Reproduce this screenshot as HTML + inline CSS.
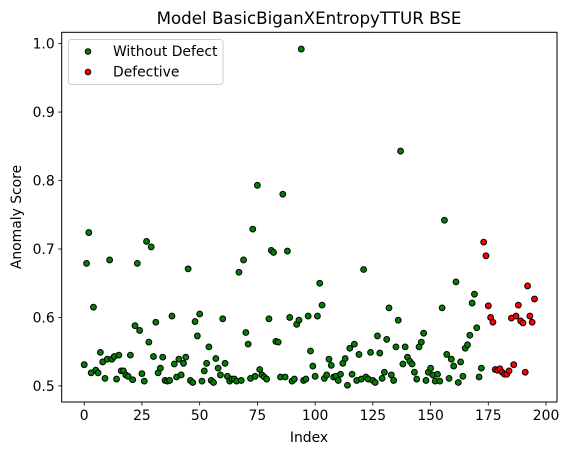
<!DOCTYPE html>
<html><head><meta charset="utf-8">
<style>
body{margin:0;background:#fff;}
svg{display:block;font-family:"DejaVu Sans","Liberation Sans",sans-serif;}
</style></head>
<body>
<svg id="chart" width="571" height="455" viewBox="0 0 571 455" xmlns="http://www.w3.org/2000/svg">
<rect x="0" y="0" width="571" height="455" fill="#fff"/>
<text x="309" y="24" text-anchor="middle" font-size="16.7" fill="#000">Model BasicBiganXEntropyTTUR BSE</text>
<g id="ticks"></g>
<g id="points"></g>
<rect x="61.7" y="32.3" width="495.3" height="369.7" fill="none" stroke="#000" stroke-width="1"/>
<g>
<rect x="68.5" y="39.5" width="154.5" height="45" rx="3" fill="#fff" fill-opacity="0.8" stroke="#ccc" stroke-width="1"/>
<circle cx="88" cy="51.5" r="2.8" fill="green" stroke="#000" stroke-width="1"/>
<text x="113" y="56" font-size="13.9">Without Defect</text>
<circle cx="88" cy="72" r="2.8" fill="red" stroke="#000" stroke-width="1"/>
<text x="113" y="76.5" font-size="13.9">Defective</text>
</g>
<text x="309" y="442" text-anchor="middle" font-size="13.9">Index</text>
<text x="21" y="217" text-anchor="middle" font-size="13.9" transform="rotate(-90 21 217)">Anomaly Score</text>
</svg>
<script>
const greenScores=[0.531,0.679,0.724,0.519,0.615,0.523,0.519,0.549,0.535,0.511,0.539,0.684,0.539,0.543,0.510,0.545,0.522,0.522,0.516,0.514,0.545,0.509,0.588,0.679,0.581,0.518,0.507,0.711,0.564,0.703,0.543,0.593,0.519,0.526,0.542,0.508,0.507,
0.508,0.602,0.532,0.513,0.539,0.516,0.533,0.542,0.671,0.508,0.505,0.594,0.573,0.605,0.507,0.522,0.533,0.557,0.508,0.505,0.540,0.526,0.516,0.598,0.533,0.514,0.507,0.510,0.510,0.507,0.666,0.508,0.684,0.578,0.561,0.511,0.729,0.514,0.793,0.524,0.516,
0.513,0.510,0.598,0.698,0.695,0.565,0.564,0.513,0.780,0.513,0.697,0.600,0.507,0.510,0.590,0.596,0.992,0.508,0.510,0.602,0.551,0.529,0.514,0.602,0.650,0.618,0.511,0.516,0.539,0.530,0.513,0.514,0.508,0.517,0.533,0.540,0.501,0.555,0.517,0.561,0.508,
0.546,0.510,0.670,0.513,0.510,0.549,0.508,0.505,0.573,0.548,0.511,0.520,0.568,0.614,0.516,0.508,0.557,0.596,0.843,0.532,0.557,0.542,0.536,0.532,0.520,0.510,0.557,0.564,0.577,0.508,0.520,0.526,0.516,0.507,0.517,0.507,0.614,0.742,0.546,0.511,0.539,0.529,
0.652,0.505,0.535,0.514,0.555,0.560,0.574,0.621,0.634,0.585,0.513,0.526];
const redScores=[0.710,0.690,0.617,0.600,0.593,0.524,0.523,0.525,0.520,0.517,0.517,0.522,0.599,0.531,0.602,0.618,0.595,0.592,0.520,0.646,0.602,0.593,0.627];
const xTicks=[0,25,50,75,100,125,150,175,200];
const yTicks=[0.5,0.6,0.7,0.8,0.9,1.0];
const xlim=[-9.75,204.75], ylim=[0.4765,1.0165];
const L=61.7,R=557,T=32.3,B=402;
const sx=v=>L+(v-xlim[0])/(xlim[1]-xlim[0])*(R-L);
const sy=v=>B-(v-ylim[0])/(ylim[1]-ylim[0])*(B-T);
const NS='http://www.w3.org/2000/svg';
const tg=document.getElementById('ticks'), pg=document.getElementById('points');
function mk(tag,attrs,parent){const e=document.createElementNS(NS,tag);for(const k in attrs)e.setAttribute(k,attrs[k]);parent.appendChild(e);return e;}
xTicks.forEach(t=>{
  const l=mk('line',{x1:sx(t),x2:sx(t),y1:B,y2:B+3.5,stroke:'#000','stroke-width':0.8},tg);
  
  
  const tx=mk('text',{x:sx(t),y:B+18,'text-anchor':'middle','font-size':13.9},tg);
  tx.textContent=String(t);
  
  
});
yTicks.forEach(t=>{
  const l=mk('line',{x1:L-3.5,x2:L,y1:sy(t),y2:sy(t),stroke:'#000','stroke-width':0.8},tg);
  
  
  const tx=mk('text',{x:L-7,y:sy(t)+5,'text-anchor':'end','font-size':13.9},tg);
  tx.textContent=t.toFixed(1);
  
  
});
greenScores.forEach((v,i)=>{
  const c=mk('circle',{cx:sx(i),cy:sy(v),r:2.9,fill:'green',stroke:'#000','stroke-width':1},pg);
  
  
});
redScores.forEach((v,j)=>{
  const i=greenScores.length+j;
  const c=mk('circle',{cx:sx(i),cy:sy(v),r:2.9,fill:'red',stroke:'#000','stroke-width':1},pg);
  
  
});
</script>
</body></html>
